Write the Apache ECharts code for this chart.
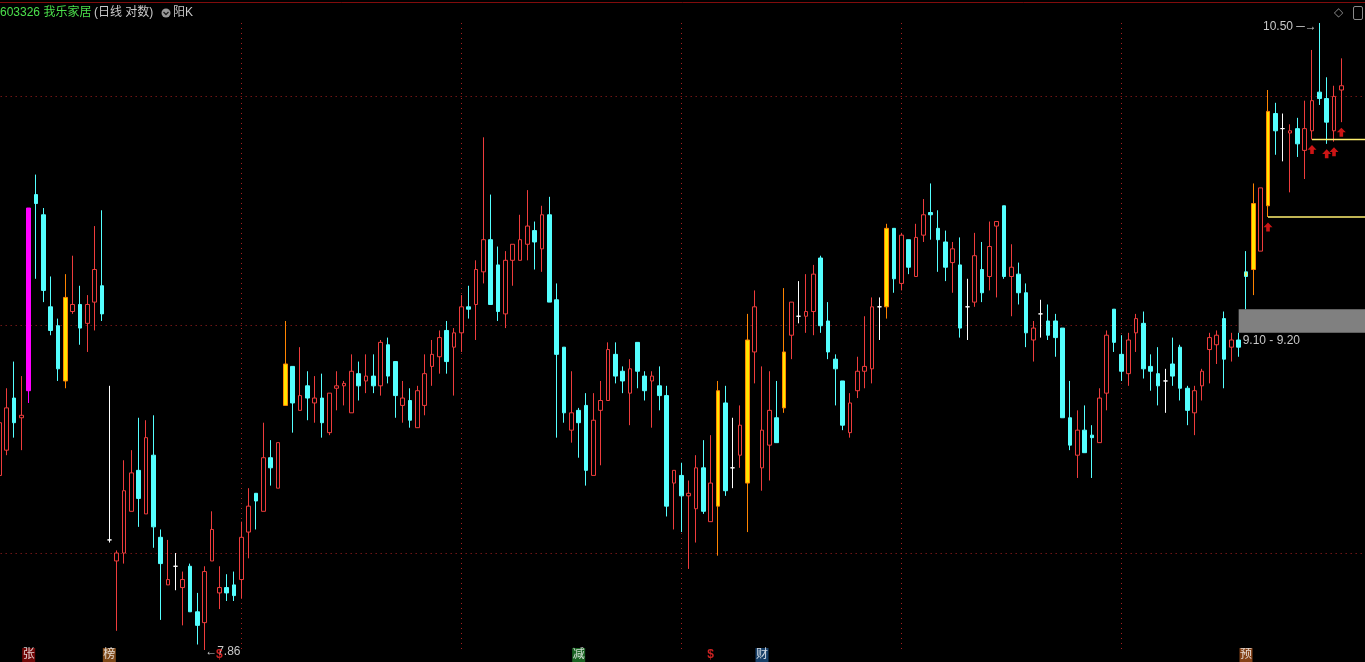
<!DOCTYPE html>
<html><head><meta charset="utf-8">
<script src="https://cdn.jsdelivr.net/npm/echarts@6/dist/echarts.min.js"></script>
<style>html,body{margin:0;padding:0;background:#000;overflow:hidden}#c{width:1365px;height:662px}</style>
</head><body><div id="c"></div>
<script>
// ---- data (one entry per trading day, oldest first) ----
const kinds = [
 'R','R','C','R','M','C','C','C','C','Y',
 'R','C','R','R','C','W','R','R','R','C',
 'R','C','C','R','W','R','C','C','R','R',
 'R','C','C','R','R','C','R','C','R','Y',
 'C','R','C','R','C','R','R','R','R','C',
 'R','C','R','C','C','R','C','R','R','R',
 'R','C','R','R','C','R','R','C','C','R',
 'R','R','R','C','R','C','C','C','R','C',
 'C','R','R','R','C','C','R','C','C','R',
 'C','C','R','C','R','R','C','R','Y','C',
 'W','R','Y','R','R','R','C','Y','R','W',
 'R','R','C','C','C','C','R','R','R','R',
 'W','Y','C','R','C','R','R','C','C','C',
 'R','C','W','R','C','R','R','C','R','C',
 'C','R','W','C','C','C','C','R','C','C',
 'R','R','C','C','R','R','C','C','C','W',
 'C','C','C','R','R','R','R','C','R','C',
 'G','Y','R','Y','C','W','R','C','R','R',
 'C','C','R','R'
];
const opens = [
 8.52,8.62,8.83,8.75,8.86,9.70,9.61,9.21,9.13,8.90,
 9.19,9.22,9.14,9.23,9.30,8.27,8.19,8.22,8.38,8.54,
 8.37,8.60,8.28,8.10,8.17,8.09,8.17,8.00,7.96,8.19,
 8.07,8.09,8.10,8.12,8.30,8.45,8.38,8.59,8.47,8.80,
 8.96,8.78,8.88,8.81,8.83,8.69,8.87,8.88,8.77,8.93,
 8.90,8.92,8.88,9.05,8.98,8.80,8.82,8.71,8.80,8.96,
 9.00,9.11,9.04,9.10,9.21,9.22,9.36,9.50,9.39,9.18,
 9.41,9.41,9.48,9.54,9.46,9.61,9.24,9.04,8.70,8.78,
 8.80,8.52,8.78,8.82,9.01,8.94,8.85,9.06,8.92,8.90,
 8.88,8.84,8.49,8.52,8.44,8.39,8.55,8.34,8.40,8.81,
 8.55,8.60,8.49,9.02,8.55,8.64,8.75,8.79,9.09,9.17,
 9.17,9.19,9.42,9.15,8.99,8.90,8.69,8.86,8.94,8.95,
 9.21,9.21,9.55,9.31,9.50,9.34,9.52,9.62,9.55,9.49,
 9.40,9.39,9.21,9.23,9.37,9.34,9.56,9.65,9.34,9.35,
 9.27,9.07,9.18,9.15,9.15,9.12,8.75,8.60,8.70,8.68,
 8.65,8.85,9.20,9.01,8.93,9.10,9.14,8.96,8.93,8.90,
 8.97,9.04,8.87,8.77,8.88,9.03,9.05,9.16,9.04,9.07,
 9.36,9.37,9.45,9.65,10.07,10.00,9.98,10.00,9.90,9.99,
 10.17,10.14,9.99,10.18
];
const closes = [
 8.73,8.79,8.73,8.76,9.64,9.66,9.28,9.11,8.95,9.25,
 9.22,9.12,9.22,9.37,9.18,8.27,8.22,8.46,8.53,8.43,
 8.67,8.32,8.18,8.12,8.17,8.12,8.00,7.95,8.15,8.31,
 8.09,8.07,8.06,8.28,8.40,8.42,8.59,8.55,8.65,8.97,
 8.81,8.84,8.83,8.83,8.73,8.85,8.88,8.89,8.94,8.88,
 8.92,8.88,9.06,8.92,8.84,8.83,8.74,8.86,8.93,9.01,
 9.08,8.98,9.10,9.21,9.20,9.37,9.50,9.22,9.19,9.41,
 9.48,9.50,9.56,9.49,9.61,9.23,9.01,8.77,8.77,8.73,
 8.54,8.74,8.82,9.03,8.92,8.90,8.95,8.94,8.86,8.92,
 8.84,8.40,8.54,8.44,8.45,8.55,8.38,8.49,8.86,8.46,
 8.55,8.72,9.07,9.21,8.70,8.78,8.65,9.02,9.23,9.17,
 9.19,9.35,9.13,9.02,8.95,8.72,8.81,8.94,8.96,9.21,
 9.21,9.55,9.33,9.52,9.38,9.51,9.61,9.61,9.50,9.38,
 9.46,9.12,9.21,9.43,9.27,9.47,9.58,9.34,9.38,9.27,
 9.10,9.12,9.18,9.09,9.08,8.75,8.64,8.70,8.61,8.67,
 8.83,9.09,9.06,8.94,9.07,9.16,8.95,8.94,8.88,8.90,
 8.92,8.87,8.78,8.86,8.94,9.08,9.09,8.99,9.07,9.04,
 9.34,9.66,9.73,10.08,9.99,10.00,9.99,9.93,10.00,10.13,
 10.14,10.03,10.15,10.20
];
const lows = [
 8.51,8.60,8.67,8.62,8.81,9.33,9.23,9.09,8.90,8.87,
 9.18,9.05,9.02,9.11,9.15,8.26,7.93,8.18,8.38,8.32,
 8.37,8.24,7.97,8.10,8.08,7.95,8.00,7.88,7.86,8.19,
 8.01,8.04,8.04,8.05,8.20,8.31,8.38,8.48,8.47,8.80,
 8.69,8.78,8.74,8.73,8.67,8.68,8.78,8.80,8.77,8.82,
 8.85,8.85,8.84,8.89,8.75,8.73,8.71,8.71,8.76,8.88,
 8.93,8.93,8.84,9.02,9.16,9.07,9.31,9.22,9.15,9.12,
 9.30,9.41,9.41,9.37,9.36,9.23,8.67,8.73,8.65,8.59,
 8.48,8.52,8.56,8.82,8.89,8.85,8.72,8.87,8.82,8.71,
 8.78,8.36,8.31,8.30,8.16,8.26,8.37,8.34,8.21,8.44,
 8.47,8.55,8.30,8.89,8.46,8.50,8.65,8.77,8.99,9.14,
 9.10,9.09,9.10,8.99,8.80,8.70,8.67,8.83,8.87,8.89,
 9.07,9.16,9.27,9.28,9.35,9.34,9.49,9.50,9.36,9.32,
 9.27,9.08,9.07,9.21,9.23,9.28,9.25,9.33,9.17,9.22,
 9.04,8.98,9.08,9.07,9.00,8.75,8.62,8.51,8.61,8.51,
 8.65,8.78,9.02,8.90,8.88,9.02,8.91,8.86,8.80,8.77,
 8.88,8.82,8.72,8.68,8.82,8.89,8.97,8.87,8.98,9.00,
 9.20,9.26,9.45,9.60,9.88,9.85,9.71,9.87,9.77,9.95,
 10.11,9.93,9.94,10.03
];
const highs = [
 8.78,8.87,8.98,8.92,9.64,9.79,9.64,9.34,9.16,9.35,
 9.43,9.30,9.26,9.56,9.63,8.88,8.23,8.58,8.62,8.75,
 8.74,8.76,8.31,8.27,8.22,8.15,8.18,8.07,8.17,8.38,
 8.17,8.14,8.15,8.34,8.47,8.45,8.73,8.66,8.65,9.15,
 8.96,9.04,8.94,8.92,8.93,8.85,8.94,8.90,9.01,8.98,
 9.01,9.01,9.07,9.08,8.98,8.90,8.87,8.88,9.01,9.07,
 9.11,9.15,9.12,9.26,9.30,9.41,9.96,9.70,9.47,9.45,
 9.48,9.61,9.72,9.58,9.65,9.69,9.31,9.04,8.94,8.79,
 8.85,8.85,8.90,9.06,9.06,8.96,8.99,9.06,8.94,8.94,
 8.96,8.88,8.54,8.57,8.50,8.60,8.66,8.68,8.90,8.88,
 8.75,8.80,9.18,9.28,8.96,8.94,8.90,9.29,9.23,9.32,
 9.35,9.39,9.43,9.23,9.01,8.90,8.85,9.00,9.17,9.25,
 9.25,9.57,9.55,9.53,9.50,9.57,9.68,9.75,9.63,9.54,
 9.49,9.51,9.33,9.53,9.49,9.58,9.58,9.65,9.48,9.40,
 9.31,9.15,9.24,9.22,9.18,9.12,8.90,8.78,8.80,8.72,
 8.87,9.11,9.20,9.09,9.10,9.18,9.19,9.01,9.04,8.95,
 9.08,9.05,8.88,8.88,8.95,9.10,9.11,9.19,9.10,9.10,
 9.45,9.75,9.73,10.18,10.12,10.07,10.02,10.05,10.13,10.37,
 10.50,10.24,10.20,10.33
];
// chart annotations (data indices)
const dividerIdx = [33, 63, 93, 123, 153];          // dotted period separators
const gridPrices = [10.15, 9.13, 8.22];             // dotted price division lines
const signalIdx = [173, 179, 181, 182, 183];        // red up arrows
const levelIdx = [173, 179];                        // support lines from these lows
const band = [9.10, 9.20];                          // grey price band
const bandStartIdx = 169;
const eventIdx = [4, 15, 30, 79, 97, 104, 170];
const eventText = ['张', '榜', '$', '减', '$', '财', '预'];
const PAD = 4;
const Y_MIN = 7.8166, Y_MAX = 10.6121;

// ---- styles ----
const kindStyle = {
  R: {fill: '#000000', stroke: '#ee3c3c'},
  C: {fill: '#54ffff', stroke: '#54ffff'},
  Y: {fill: '#ffe400', stroke: '#ff8400'},
  M: {fill: '#ff00ff', stroke: '#ff00ff'},
  W: {fill: '#ffffff', stroke: '#ffffff'},
  G: {fill: '#e6f060', stroke: '#54ffff'}
};
const eventBg = {'张': '#8c0a0a', '榜': '#9c5a1e', '减': '#1f7a2a', '财': '#1d4f82', '预': '#a5521e', '$': 'rgba(0,0,0,0)'};

const categories = [];
for (let i = 0; i < opens.length + PAD; i++) categories.push(String(i));

const candleData = opens.map((o, i) => {
  const s = kindStyle[kinds[i]];
  return {value: [o, closes[i], lows[i], highs[i]],
    itemStyle: {color: s.fill, color0: s.fill, borderColor: s.stroke, borderColor0: s.stroke, borderColorDoji: s.stroke}};
});
function levelLine(start) { return categories.map((_, i) => i >= start ? lows[start] : null); }
const hiAll = Math.max(...highs), loAll = Math.min(...lows);

const dotted = {color: '#a82020', type: [1, 4], width: 1};
const LABEL_FONT = '"Liberation Sans", "Noto Sans CJK SC", sans-serif';

const option = {
  backgroundColor: '#000000',
  animation: false,
  grid: {left: -4.33, top: 0, width: (opens.length + PAD) * 7.3333, height: 662, outerBoundsMode: 'none', containLabel: false},
  xAxis: {type: 'category', data: categories, boundaryGap: true, show: false},
  yAxis: {type: 'log', logBase: 10, min: Y_MIN, max: Y_MAX, show: false, splitLine: {show: false}},
  graphic: [
    {type: 'line', shape: {x1: 0, y1: 2.5, x2: 1365, y2: 2.5}, style: {stroke: '#800c0c', lineWidth: 1}, z: 10},
    {type: 'text', x: 0, y: 13, style: {text: '603326 我乐家居', fill: '#4be04b', font: '12px ' + LABEL_FONT, verticalAlign: 'middle'}, z: 10},
    {type: 'text', x: 94, y: 13, style: {text: '(日线 对数)', fill: '#c8c8c8', font: '12px ' + LABEL_FONT, verticalAlign: 'middle'}, z: 10},
    {type: 'circle', shape: {cx: 166, cy: 13, r: 4.5}, style: {fill: '#9a9a9a'}, z: 10},
    {type: 'polyline', shape: {points: [[163.5, 12], [166, 14.5], [168.5, 12]]}, style: {stroke: '#222', lineWidth: 1.4, fill: null}, z: 11},
    {type: 'text', x: 173, y: 13, style: {text: '阳K', fill: '#c8c8c8', font: '12px ' + LABEL_FONT, verticalAlign: 'middle'}, z: 10},
    {type: 'text', x: 1334, y: 13, style: {text: '◇', fill: '#8a8a8a', font: '12px "DejaVu Sans"', verticalAlign: 'middle'}, z: 10},
    {type: 'rect', shape: {x: 1353.5, y: 6.5, width: 9, height: 13, r: 1.5}, style: {stroke: '#8a8a8a', fill: null, lineWidth: 1}, z: 10}
  ],
  series: [
    {type: 'line', data: [], z: 1, silent: true,
      markLine: {silent: true, z: 1, symbol: ['none', 'none'], label: {show: false}, lineStyle: dotted,
        data: gridPrices.map(v => ({yAxis: v})).concat(
          dividerIdx.map(i => [{xAxis: i, yAxis: hiAll}, {xAxis: i, yAxis: loAll}]))}},
    {type: 'line', data: [], z: 1, silent: true,
      markArea: {silent: true, z: 1.5, itemStyle: {color: '#808080'},
        label: {show: true, position: [4, 26], color: '#c8c8c8', fontSize: 12, fontFamily: LABEL_FONT,
          formatter: band[0].toFixed(2) + ' - ' + band[1].toFixed(2)},
        data: [[{xAxis: bandStartIdx, yAxis: band[0]}, {yAxis: band[1]}]]}},
    {type: 'candlestick', data: candleData, barWidth: 4, z: 2,
      itemStyle: {borderWidth: 1},
      markPoint: {symbol: 'rect', symbolSize: 1, itemStyle: {color: 'rgba(0,0,0,0)'},
        label: {color: '#c8c8c8', fontSize: 12, fontFamily: LABEL_FONT},
        data: [
          {type: 'max', valueDim: 'highest', label: {position: 'left', distance: 2, offset: [0, 4], formatter: p => p.value.toFixed(2) + ' ─→'}},
          {type: 'min', valueDim: 'lowest', label: {position: 'right', distance: 0, offset: [0, 2], formatter: p => '←' + p.value.toFixed(2)}}
        ]}},
    ...levelIdx.map(s => ({type: 'line', data: levelLine(s), z: 3, symbol: 'none', silent: true,
      lineStyle: {color: '#fff070', width: 1.3}, connectNulls: false})),
    {type: 'scatter', z: 5, clip: false, silent: true,
      data: signalIdx.map(i => [i, lows[i]]),
      symbol: 'path://M4,0L8,4.2L5.6,4.2L5.6,8L2.4,8L2.4,4.2L0,4.2Z', symbolSize: [9, 9], symbolOffset: [0, 10],
      itemStyle: {color: '#ff1a1a'}},
    {type: 'scatter', z: 5, clip: false, silent: true,
      data: eventIdx.map((i, j) => ({value: [i, Y_MIN], name: eventText[j], itemStyle: {color: eventBg[eventText[j]]},
        label: {color: eventText[j] === '$' ? '#ff2a2a' : '#ffffff', fontWeight: eventText[j] === '$' ? 'bold' : 'normal'}})),
      symbol: 'rect', symbolSize: [13, 14], symbolOffset: [0, -7],
      label: {show: true, position: 'inside', formatter: p => p.name, fontSize: 12, fontFamily: LABEL_FONT}}
  ]
};
const chart = echarts.init(document.getElementById('c'), null, {renderer: 'canvas'});
chart.setOption(option);
</script>
</body></html>
